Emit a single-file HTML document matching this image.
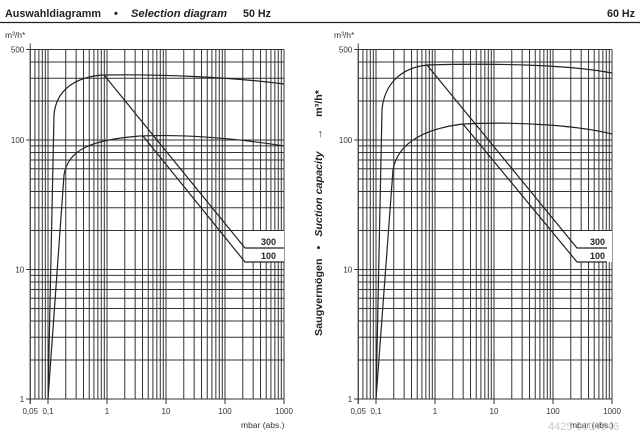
<!DOCTYPE html>
<html><head><meta charset="utf-8"><style>
body{margin:0;background:#fff;}
svg{display:block;font-family:"Liberation Sans",sans-serif;}
</style></head><body>
<svg id="s" width="640" height="434" viewBox="0 0 640 434" xmlns="http://www.w3.org/2000/svg">
<g font-size="11" font-weight="bold" fill="#222">
<text x="5" y="17" textLength="96" lengthAdjust="spacingAndGlyphs">Auswahldiagramm</text>
<text x="114" y="17">•</text>
<text x="131" y="17" font-style="italic" textLength="96" lengthAdjust="spacingAndGlyphs">Selection diagram</text>
<text x="243" y="17" textLength="28" lengthAdjust="spacingAndGlyphs">50 Hz</text>
<text x="607" y="17" textLength="28" lengthAdjust="spacingAndGlyphs">60 Hz</text>
</g>
<line x1="0" y1="22.5" x2="640" y2="22.5" stroke="#222" stroke-width="1.2"/>
<g id="grid" stroke="#333" stroke-width="1" fill="none"></g>
<g font-size="8.5" fill="#333">
<text x="5" y="38">m³/h*</text>
<text x="334" y="38">m³/h*</text>
<text x="241" y="428">mbar (abs.)</text>
<text x="570" y="428">mbar (abs.)</text>
</g>
<text transform="translate(322,336) rotate(-90)" font-size="10.5" font-weight="bold" fill="#222" textLength="246" lengthAdjust="spacingAndGlyphs" xml:space="preserve">Saugvermögen   •   <tspan font-style="italic">Suction capacity</tspan>    →    m³/h*</text>
<g id="lbl" font-size="8" fill="#333"></g>
<rect x="245" y="231" width="39" height="31" fill="#fff"/>
<rect x="577" y="231" width="35" height="31" fill="#fff"/>
<g stroke="#222" stroke-width="1.2" fill="none">
<path d="M48,399 L54,115 C56,90 75,77 103,75 C160,74 230,77 284,84"/>
<path d="M48,399 L64,175 C68,150 90,140 140,136 C190,134 240,139 284,146"/>
<path d="M104,75 L245,248 L284,248"/>
<path d="M143,136 L245,262 L284,262"/>
<path d="M376,399 L382,110 C384,85 400,68 427,65 C500,63 570,65 612,73"/>
<path d="M376,399 L393,170 C398,140 430,128 463,124 C520,121 580,126 612,134"/>
<path d="M427,65 L577,248 L607,248"/>
<path d="M463,124 L577,262 L607,262"/>
</g>
<g font-size="9" font-weight="bold" fill="#222">
<text x="261" y="245">300</text><text x="261" y="259">100</text>
<text x="590" y="245">300</text><text x="590" y="259">100</text>
</g>
<text x="548" y="430" font-size="11" fill="#bbb" opacity="0.8">4425-0004546</text>
</svg>
<script>
var g=document.getElementById('grid'),L=document.getElementById('lbl'),ns='http://www.w3.org/2000/svg';
function ln(a,b,c,d,w){var e=document.createElementNS(ns,'line');e.setAttribute('x1',a);e.setAttribute('y1',b);e.setAttribute('x2',c);e.setAttribute('y2',d);if(w)e.setAttribute('stroke-width',w);g.appendChild(e);}
function tx(x,y,s,a){var e=document.createElementNS(ns,'text');e.setAttribute('x',x);e.setAttribute('y',y);e.setAttribute('text-anchor',a);e.textContent=s;L.appendChild(e);}
function plot(x01){
 var dx=59,dy=129.5,Y=function(v){return 399-dy*Math.log10(v)},X=function(v){return x01+dx*Math.log10(v/0.1)};
 var x0=X(0.05),x1=X(1000),yt=Y(500);
 for(var d=0.01;d<1000;d*=10)for(var k=1;k<10;k++){var v=d*k;if(v<0.05-1e-9||v>1000+1e-9)continue;var x=X(v);ln(x,yt,x,399);}
 ln(x1,yt,x1,399);
 for(var d=1;d<1000;d*=10)for(var k=1;k<10;k++){var v=d*k;if(v>500+1e-9)continue;var y=Y(v);ln(x0,y,x1,y);}
 ln(x0,yt-6,x0,404);ln(x0-4,399,x1,399);
 [[500,'500'],[100,'100'],[10,'10'],[1,'1']].forEach(function(p){var y=Y(p[0]);ln(x0-4,y,x0,y);tx(x0-6,y+3,p[1],'end');});
 [[0.05,'0,05'],[0.1,'0,1'],[1,'1'],[10,'10'],[100,'100'],[1000,'1000']].forEach(function(p){var x=X(p[0]);ln(x,399,x,404);tx(x,414,p[1],'middle');});
}
plot(48);plot(376);
</script>
</body></html>
